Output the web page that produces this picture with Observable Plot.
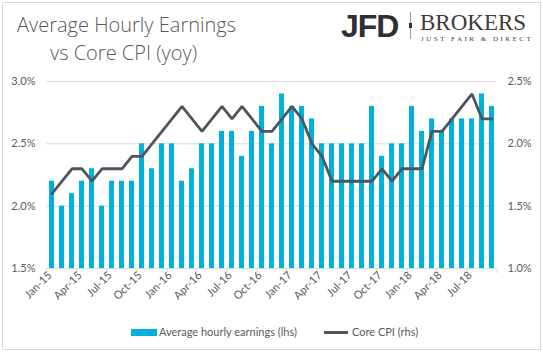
<!DOCTYPE html>
<html>
<head>
<meta charset="utf-8">
<script src="https://cdn.jsdelivr.net/npm/d3@7"></script>
<script src="https://cdn.jsdelivr.net/npm/@observablehq/plot@0.6"></script>
<style>
  html, body { margin: 0; padding: 0; background: #fff; }
  #wrap { position: relative; width: 543px; height: 352px; overflow: hidden; font-family: Lato, "Open Sans", sans-serif; }
  #frame { position: absolute; left: 2px; top: 2px; width: 537px; height: 346px; border: 1px solid #d9d9d9; }
  #chart { position: absolute; left: 0; top: 0; }
  .title { position: absolute; color: #595959; font-family: "Open Sans", Lato, sans-serif; font-weight: 300; font-size: 20px; white-space: nowrap; line-height: 1; }
  #logo-jfd { position: absolute; left: 341px; top: 10px; font-family: "Liberation Sans", Arial, sans-serif; font-weight: bold; font-size: 32px; color: #2f3033; letter-spacing: -1px; line-height: 1; }
  #logo-sep { position: absolute; left: 410px; top: 12px; width: 1px; height: 27px; background: #9a9a9a; }
  #logo-dot { position: absolute; left: 409px; top: 23px; width: 3px; height: 5px; background: #333; }
  #logo-brokers { position: absolute; left: 420px; top: 10.5px; font-family: "Liberation Serif", "DejaVu Serif", serif; font-size: 23px; color: #3b3b3b; line-height: 1; }
  #logo-tag { position: absolute; left: 421px; top: 35.5px; font-family: "Liberation Serif", "DejaVu Serif", serif; font-size: 7px; color: #444; letter-spacing: 2.5px; line-height: 1; white-space: nowrap; }
  .leg { position: absolute; font-size: 11px; color: #595959; white-space: nowrap; line-height: 1; }
</style>
</head>
<body>
<div id="wrap">
  <div id="chart"></div>
  <div id="frame"></div>
  <div class="title" id="t1" style="left:17px; top:15px;">Average Hourly Earnings</div>
  <div class="title" id="t2" style="left:50px; top:42.5px;">vs Core CPI (yoy)</div>
  <div id="logo-jfd">JFD</div>
  <div id="logo-sep"></div>
  <div id="logo-dot"></div>
  <div id="logo-brokers">BROKERS</div>
  <div id="logo-tag">JUST FAIR &amp; DIRECT</div>
  <div id="legend"></div>
</div>
<script>
const months = [
  "Jan-15","Feb-15","Mar-15","Apr-15","May-15","Jun-15","Jul-15","Aug-15","Sep-15","Oct-15","Nov-15","Dec-15",
  "Jan-16","Feb-16","Mar-16","Apr-16","May-16","Jun-16","Jul-16","Aug-16","Sep-16","Oct-16","Nov-16","Dec-16",
  "Jan-17","Feb-17","Mar-17","Apr-17","May-17","Jun-17","Jul-17","Aug-17","Sep-17","Oct-17","Nov-17","Dec-17",
  "Jan-18","Feb-18","Mar-18","Apr-18","May-18","Jun-18","Jul-18","Aug-18","Sep-18"
];
const earnings = [
  2.2,2.0,2.1,2.2,2.3,2.0,2.2,2.2,2.2,2.5,2.3,2.5,
  2.5,2.2,2.3,2.5,2.5,2.6,2.6,2.4,2.6,2.8,2.5,2.9,
  2.8,2.8,2.7,2.5,2.5,2.5,2.5,2.5,2.8,2.4,2.5,2.5,
  2.8,2.6,2.7,2.6,2.7,2.7,2.7,2.9,2.8
];
const coreCPI = [
  1.6,1.7,1.8,1.8,1.7,1.8,1.8,1.8,1.9,1.9,2.0,2.1,
  2.2,2.3,2.2,2.1,2.2,2.3,2.2,2.3,2.2,2.1,2.1,2.2,
  2.3,2.2,2.0,1.9,1.7,1.7,1.7,1.7,1.7,1.8,1.7,1.8,
  1.8,1.8,2.1,2.1,2.2,2.3,2.4,2.2,2.2
];
const xTickLabels = ["Jan-15","Apr-15","Jul-15","Oct-15","Jan-16","Apr-16","Jul-16","Oct-16","Jan-17","Apr-17","Jul-17","Oct-17","Jan-18","Apr-18","Jul-18"];
const leftTicks = [1.5, 2.0, 2.5, 3.0];
const rightTicks = [1.0, 1.5, 2.0, 2.5];
const seriesNames = ["Average hourly earnings (lhs)", "Core CPI (rhs)"];

const BAR = "#00b1d9";
const LINE = "#4d555f";
const OFFSET = leftTicks[0] - rightTicks[0]; // right axis maps onto left scale

const data = months.map((m, i) => ({month: m, ahe: earnings[i], cpi: coreCPI[i]}));

const chart = Plot.plot({
  width: 543,
  height: 352,
  marginTop: 81,
  marginBottom: 84,
  marginLeft: 46,
  marginRight: 47,
  style: {fontFamily: "Lato, 'Open Sans', sans-serif", fontSize: "11px", color: "#595959", background: "transparent"},
  x: {type: "band", domain: months, paddingInner: 0.5, paddingOuter: 0.25, axis: null},
  y: {domain: [leftTicks[0], leftTicks[leftTicks.length - 1]], axis: null},
  marks: [
    Plot.gridY(leftTicks.slice(1), {stroke: "#d9d9d9", strokeOpacity: 1}),
    Plot.barY(data, {x: "month", y1: leftTicks[0], y2: "ahe", fill: BAR}),
    Plot.ruleY([leftTicks[0]], {stroke: "#d9d9d9"}),
    Plot.lineY(data, {x: "month", y: d => d.cpi + OFFSET, stroke: LINE, strokeWidth: 2.8, strokeLinejoin: "miter"}),
    Plot.axisY({anchor: "left", ticks: leftTicks, tickSize: 0, tickPadding: 11, tickFormat: d => d.toFixed(1) + "%", label: null}),
    Plot.axisY({anchor: "right", ticks: leftTicks, tickSize: 0, tickPadding: 11, tickFormat: d => (d - OFFSET).toFixed(1) + "%", label: null}),
    Plot.axisX({ticks: xTickLabels, tickSize: 5, dx: -5, tickFormat: () => "", stroke: "#d9d9d9", label: null}),
    Plot.axisX({ticks: [months[months.length - 1]], tickSize: 5, dx: 5, tickFormat: () => "", stroke: "#d9d9d9", label: null}),
    Plot.axisX({ticks: xTickLabels, tickSize: 0, tickPadding: 5, tickRotate: -45, dx: -2, label: null})
  ]
});
document.getElementById("chart").appendChild(chart);

// legend
const legend = document.getElementById("legend");
legend.innerHTML = `
  <div style="position:absolute;left:131px;top:329px;width:26px;height:7px;background:${BAR}"></div>
  <div class="leg" style="left:159px;top:326px;">${seriesNames[0]}</div>
  <div style="position:absolute;left:324px;top:331px;width:24px;height:3px;background:${LINE}"></div>
  <div class="leg" style="left:352px;top:326px;">${seriesNames[1]}</div>
`;
</script>
</body>
</html>
